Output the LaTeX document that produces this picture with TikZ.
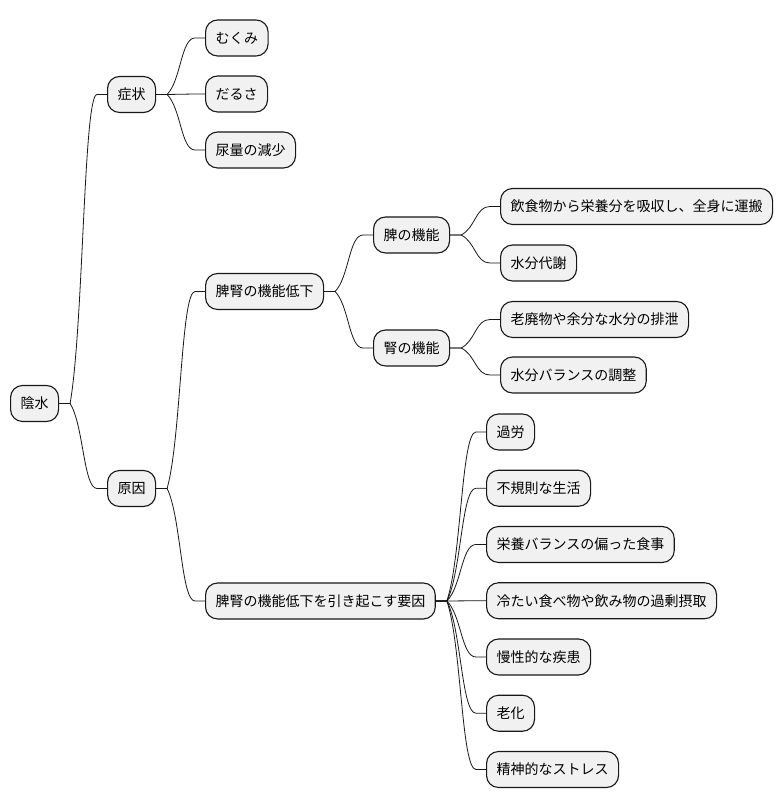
\documentclass[tikz,border=0pt]{standalone}
\usepackage{fontspec}
\newfontfamily\jpfont{Noto Sans CJK JP}
\usetikzlibrary{calc}
\definecolor{boxfill}{HTML}{F1F1F1}
\definecolor{lineclr}{HTML}{181818}
\newcommand\mmlink[2]{%
  \draw[conn] let \p1=(#1.east), \p2=(#2.west),
    \n1={\x1+11}, \n2={\x2-10}, \n3={(\n1+\n2)/2}, \n4={\y1+0.25*(\y2-\y1)} in
    (\p1) -- (\n1,\y1) .. controls (\n3,\n4) and (\n3,\y2) .. (\n2,\y2) -- (\p2);}
\begin{document}
\begin{tikzpicture}[x=1pt,y=1pt,
  mmnode/.style={draw=lineclr, fill=boxfill, rounded corners=12pt, line width=1.1pt,
    minimum height=36pt, inner xsep=10pt, inner ysep=0pt,
    text height=12.3pt, text depth=1.7pt,
    font=\jpfont\fontsize{14}{16}\selectfont, anchor=west},
  conn/.style={draw=lineclr, line width=0.8pt}]
\useasboundingbox[fill=white] (0,0) rectangle (782,809);
% level 0
\node[mmnode] (root) at (10,405.5) {陰水};
% level 1
\node[mmnode] (sym) at (107,714.5) {症状};
\node[mmnode] (cause) at (107,320.5) {原因};
% symptoms
\node[mmnode] (s1) at (205,771) {むくみ};
\node[mmnode] (s2) at (205,715) {だるさ};
\node[mmnode] (s3) at (205,659) {尿量の減少};
% causes
\node[mmnode] (c1) at (205,517.5) {脾腎の機能低下};
\node[mmnode] (c2) at (205,208) {脾腎の機能低下を引き起こす要因};
% c1 children
\node[mmnode] (h1) at (373,574) {脾の機能};
\node[mmnode] (h2) at (373,461) {腎の機能};
\node[mmnode] (h1a) at (500,602.5) {飲食物から栄養分を吸収し、全身に運搬};
\node[mmnode] (h1b) at (500,546) {水分代謝};
\node[mmnode] (h2a) at (500,489.5) {老廃物や余分な水分の排泄};
\node[mmnode] (h2b) at (500,434) {水分バランスの調整};
% c2 children
\node[mmnode] (f1) at (486,377) {過労};
\node[mmnode] (f2) at (486,320.75) {不規則な生活};
\node[mmnode] (f3) at (486,264.5) {栄養バランスの偏った食事};
\node[mmnode] (f4) at (486,208.25) {冷たい食べ物や飲み物の過剰摂取};
\node[mmnode] (f5) at (486,152) {慢性的な疾患};
\node[mmnode] (f6) at (486,95.75) {老化};
\node[mmnode] (f7) at (486,39.5) {精神的なストレス};
% connectors
\mmlink{root}{sym}
\mmlink{root}{cause}
\mmlink{sym}{s1}
\mmlink{sym}{s2}
\mmlink{sym}{s3}
\mmlink{cause}{c1}
\mmlink{cause}{c2}
\mmlink{c1}{h1}
\mmlink{c1}{h2}
\mmlink{h1}{h1a}
\mmlink{h1}{h1b}
\mmlink{h2}{h2a}
\mmlink{h2}{h2b}
\mmlink{c2}{f1}
\mmlink{c2}{f2}
\mmlink{c2}{f3}
\mmlink{c2}{f4}
\mmlink{c2}{f5}
\mmlink{c2}{f6}
\mmlink{c2}{f7}
\end{tikzpicture}
\end{document}
